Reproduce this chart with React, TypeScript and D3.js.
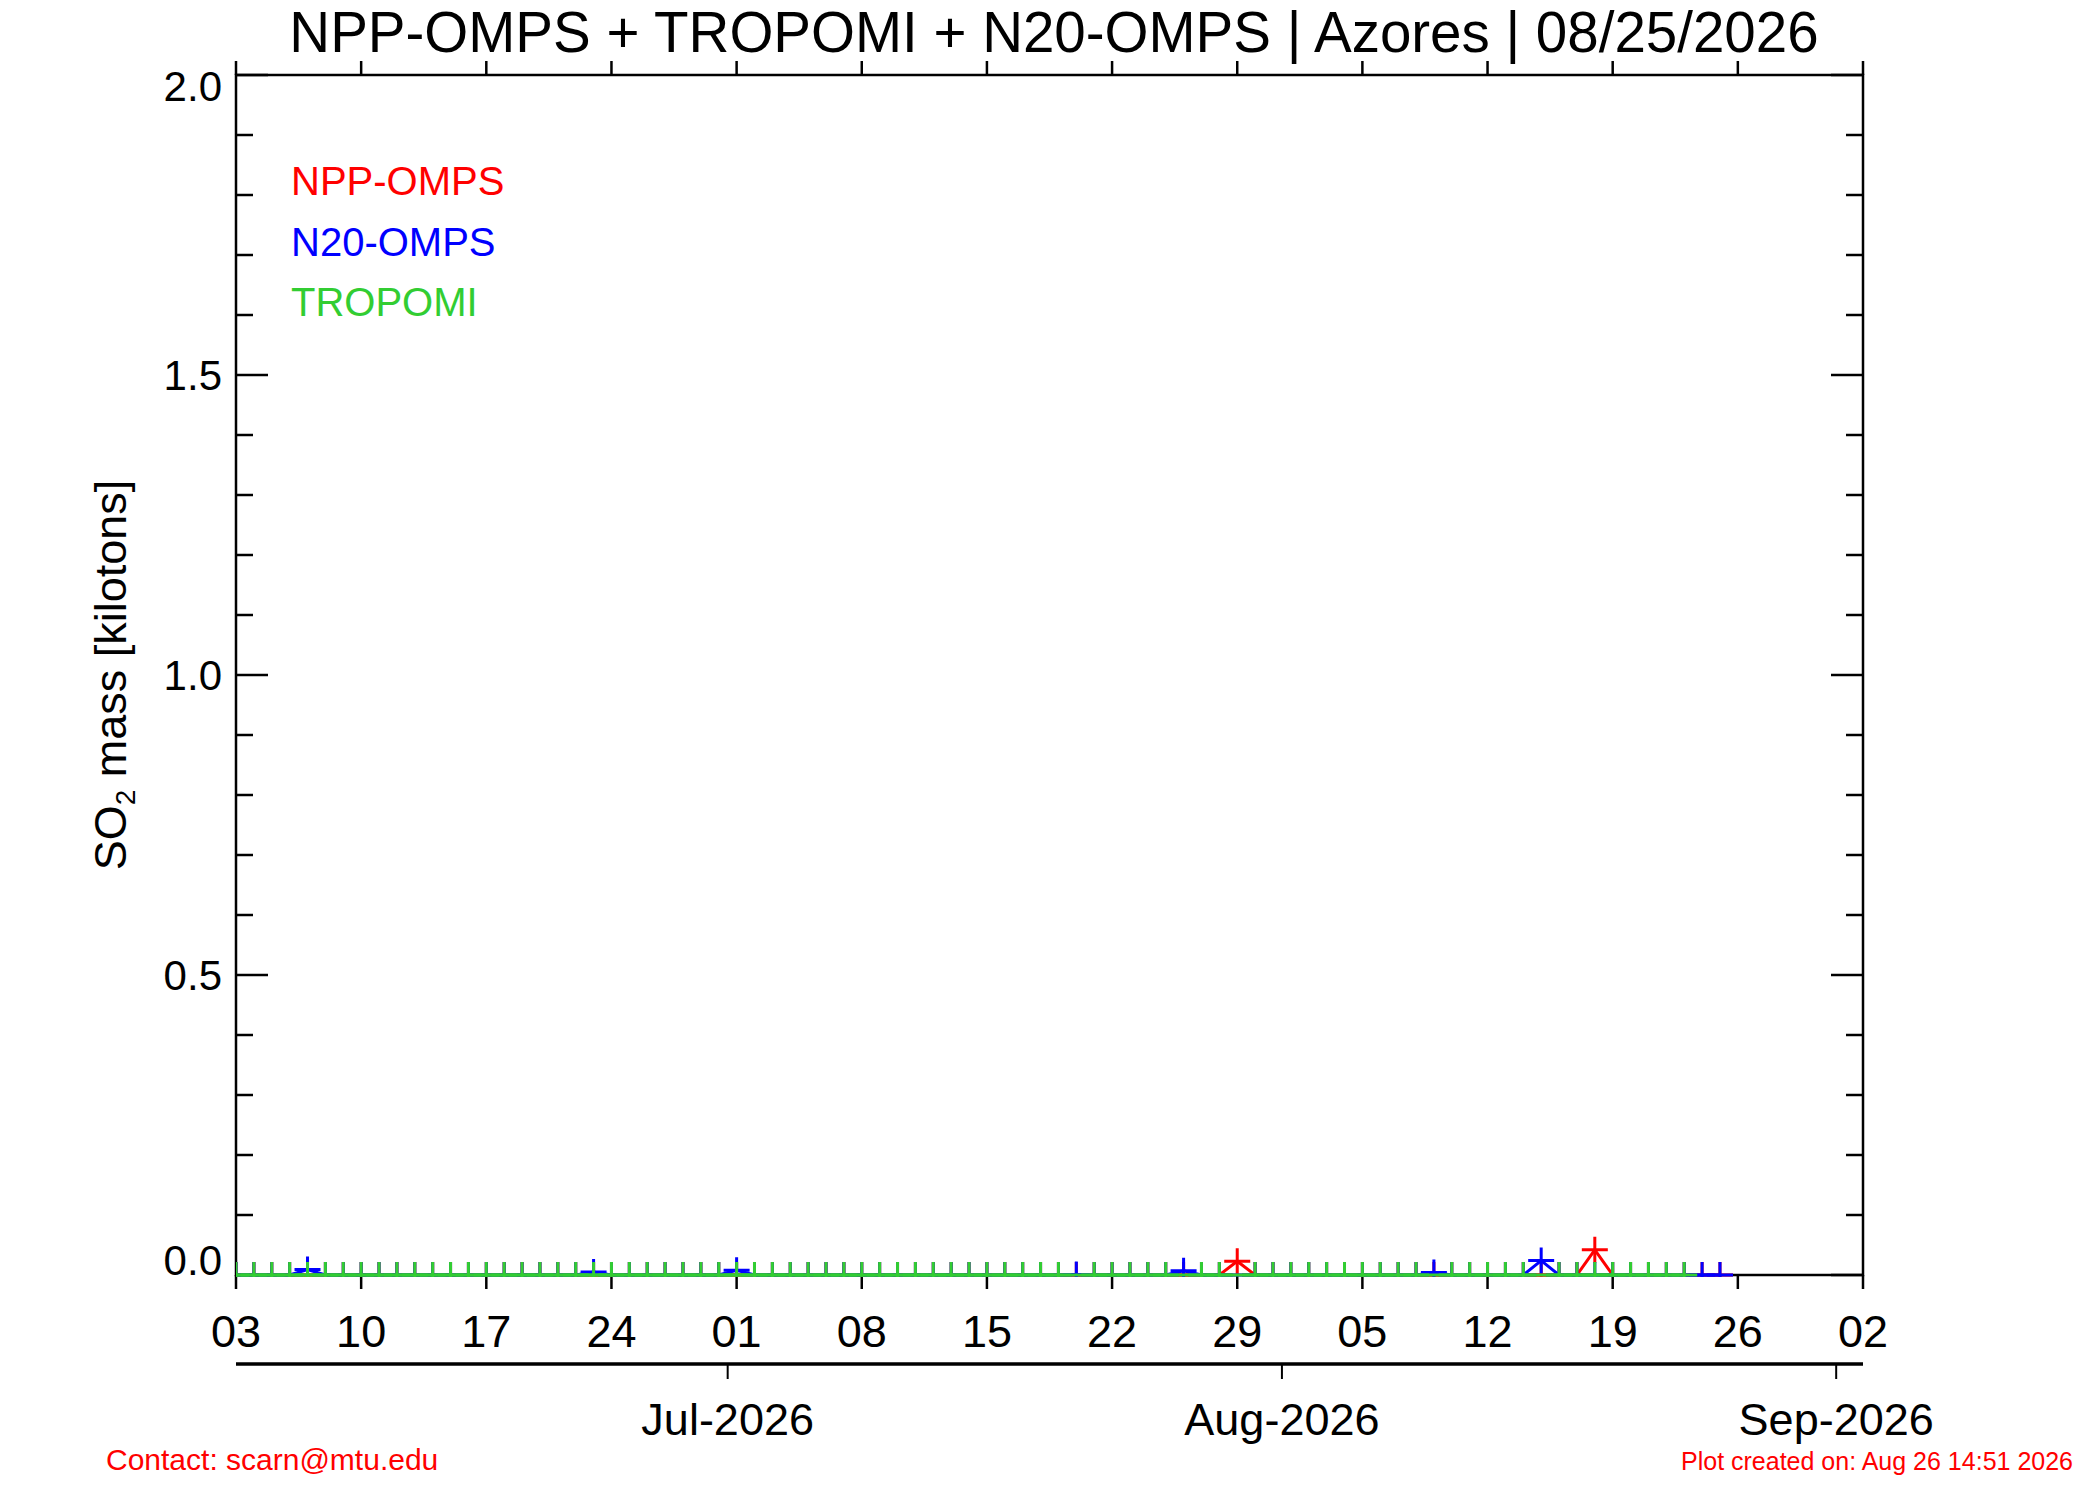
import React, { useEffect, useRef } from "react";
import * as d3 from "d3";

// first day of every series (Jun 3 2026), one value per day from there on
const seriesStart = "2026-06-03";

// SO2 mass [kilotons], null = no retrieval that day (weekly rows starting Wed)
const nppValues: Array<number | null> = [
  0, 0, 0, 0, 0, 0, 0,
  0, 0, 0, 0, 0, 0, 0,
  0, 0, 0, 0, 0, 0, 0,
  0, 0, 0, 0, 0, 0, 0,
  0, 0, 0, 0, 0, 0, 0,
  0, 0, 0, 0, 0, 0, 0,
  0, 0, 0, 0, 0, 0, 0,
  0, 0, 0, 0, 0, 0, 0,
  0.023, 0, 0, 0, 0, 0, 0,
  0, 0, 0, 0, 0, 0, 0,
  0, 0, 0, 0, 0, 0, 0.042,
  0, 0, 0, 0, 0, 0, 0,
];

const n20Values: Array<number | null> = [
  0, 0, 0, 0, 0.009, 0, 0,
  0, 0, 0, 0, 0, 0, 0,
  0, 0, 0, 0, 0, 0, 0.005,
  0, 0, 0, 0, 0, 0, 0,
  0.008, 0, 0, 0, 0, 0, 0,
  0, 0, 0, 0, 0, 0, 0,
  0, 0, 0, 0, 0, 0.001, 0,
  0, 0, 0, 0, 0.007, 0, 0,
  null, 0, 0, 0, 0, 0, 0,
  0, 0, 0, 0, 0.004, 0, 0,
  0, 0, 0, 0.024, 0, 0, 0,
  0, 0, 0, 0, 0, 0, 0,
];

const tropomiValues: Array<number | null> = [
  0, 0, 0, 0, 0, 0, 0,
  0, 0, 0, 0, 0, 0, 0,
  0, 0, 0, 0, 0, 0, 0,
  0, 0, 0, 0, 0, 0, 0,
  0, 0, 0, 0, 0, 0, 0,
  0, 0, 0, 0, 0, 0, 0,
  0, 0, 0, 0, 0, null, 0,
  0, 0, 0, 0, null, 0, 0,
  null, 0, 0, 0, 0, 0, 0,
  0, 0, 0, 0, null, 0, 0,
  0, 0, 0, null, 0, 0, 0,
  0, 0, 0, 0, 0, null, null,
];

const xDomain = ["2026-06-03", "2026-09-02"];
const dayTicks = [
  "2026-06-03", "2026-06-10", "2026-06-17", "2026-06-24", "2026-07-01",
  "2026-07-08", "2026-07-15", "2026-07-22", "2026-07-29", "2026-08-05",
  "2026-08-12", "2026-08-19", "2026-08-26", "2026-09-02",
];
const monthTicks = ["2026-07-01", "2026-08-01", "2026-09-01"];
const yMajorTicks = [0, 0.5, 1.0, 1.5, 2.0];

const legendItems = [
  { name: "NPP-OMPS", color: "#ff0000" },
  { name: "N20-OMPS", color: "#0000ff" },
  { name: "TROPOMI", color: "#32cd32" },
];

const FONT = "'Liberation Sans', Arial, Helvetica, sans-serif";

export default function App() {
  const svgRef = useRef<SVGSVGElement>(null);

  useEffect(() => {
    if (!svgRef.current) return;
    const svg = d3.select(svgRef.current);
    svg.selectAll("*").remove();

    const width = 2100;
    const height = 1500;
    const left = 236;
    const right = 1863;
    const top = 75;
    const bottom = 1275;

    const parse = d3.utcParse("%Y-%m-%d");
    const noon = (s: string) => d3.utcHour.offset(parse(s) as Date, 12);

    const x = d3
      .scaleUtc()
      .domain([noon(xDomain[0]), noon(xDomain[1])])
      .range([left, right]);
    const y = d3.scaleLinear().domain([0, 2]).range([bottom, top]);

    svg.append("rect").attr("width", width).attr("height", height).attr("fill", "#fff");

    // title
    svg
      .append("text")
      .attr("x", 1054)
      .attr("y", 52)
      .attr("text-anchor", "middle")
      .style("font-family", FONT)
      .style("font-size", "56.5px")
      .text("NPP-OMPS + TROPOMI + N20-OMPS | Azores | 08/25/2026");

    // frame
    svg
      .append("rect")
      .attr("x", left)
      .attr("y", top)
      .attr("width", right - left)
      .attr("height", bottom - top)
      .attr("fill", "none")
      .attr("stroke", "#000")
      .attr("stroke-width", 2.5);

    // y ticks (minor every 0.1, major every 0.5) on both sides
    const yTicks = y.ticks(20);
    yTicks.forEach((v) => {
      const major = Math.abs(v * 2 - Math.round(v * 2)) < 1e-6;
      const len = major ? 32 : 17;
      svg
        .append("line")
        .attr("x1", left)
        .attr("x2", left + len)
        .attr("y1", y(v))
        .attr("y2", y(v))
        .attr("stroke", "#000")
        .attr("stroke-width", 2.5);
      svg
        .append("line")
        .attr("x1", right)
        .attr("x2", right - len)
        .attr("y1", y(v))
        .attr("y2", y(v))
        .attr("stroke", "#000")
        .attr("stroke-width", 2.5);
    });

    yMajorTicks.forEach((v, i) => {
      let by = y(v) + 15;
      if (i === yMajorTicks.length - 1) by = y(v) + 26;
      if (i === 0) by = y(v);
      svg
        .append("text")
        .attr("x", 222)
        .attr("y", by)
        .attr("text-anchor", "end")
        .style("font-family", FONT)
        .style("font-size", "42px")
        .text(d3.format(".1f")(v));
    });

    // y axis title
    const yt = svg
      .append("text")
      .attr("transform", `translate(126,${(top + bottom) / 2}) rotate(-90)`)
      .attr("text-anchor", "middle")
      .style("font-family", FONT)
      .style("font-size", "45px");
    yt.append("tspan").text("SO");
    yt.append("tspan").attr("dy", 9).style("font-size", "28px").text("2");
    yt.append("tspan").attr("dy", -9).text(" mass [kilotons]");

    // weekly day ticks, top and bottom (outward)
    dayTicks.forEach((d) => {
      const px = x(noon(d));
      svg
        .append("line")
        .attr("x1", px)
        .attr("x2", px)
        .attr("y1", top)
        .attr("y2", top - 14)
        .attr("stroke", "#000")
        .attr("stroke-width", 2.5);
      svg
        .append("line")
        .attr("x1", px)
        .attr("x2", px)
        .attr("y1", bottom)
        .attr("y2", bottom + 14)
        .attr("stroke", "#000")
        .attr("stroke-width", 2.5);
      svg
        .append("text")
        .attr("x", px)
        .attr("y", 1347)
        .attr("text-anchor", "middle")
        .style("font-family", FONT)
        .style("font-size", "45px")
        .text(d3.utcFormat("%d")(noon(d)));
    });

    // month axis
    svg
      .append("line")
      .attr("x1", left)
      .attr("x2", right)
      .attr("y1", 1364)
      .attr("y2", 1364)
      .attr("stroke", "#000")
      .attr("stroke-width", 3.5);
    monthTicks.forEach((d) => {
      const date = parse(d) as Date;
      const px = x(date);
      svg
        .append("line")
        .attr("x1", px)
        .attr("x2", px)
        .attr("y1", 1364)
        .attr("y2", 1379)
        .attr("stroke", "#000")
        .attr("stroke-width", 2);
      svg
        .append("text")
        .attr("x", px)
        .attr("y", 1435)
        .attr("text-anchor", "middle")
        .style("font-family", FONT)
        .style("font-size", "45px")
        .text(d3.utcFormat("%b-%Y")(date));
    });

    // data (clipped to the plot window)
    svg
      .append("defs")
      .append("clipPath")
      .attr("id", "plot-clip")
      .append("rect")
      .attr("x", left)
      .attr("y", top)
      .attr("width", right - left)
      .attr("height", bottom - top + 2);

    const g = svg.append("g").attr("clip-path", "url(#plot-clip)");
    const start = parse(seriesStart) as Date;

    const drawSeries = (values: Array<number | null>, color: string) => {
      const pts = values
        .map((v, i) => ({ date: d3.utcHour.offset(d3.utcDay.offset(start, i), 12), v }))
        .filter((p) => p.v !== null) as Array<{ date: Date; v: number }>;

      const line = d3
        .line<{ date: Date; v: number }>()
        .x((p) => x(p.date))
        .y((p) => y(p.v));

      g.append("path")
        .datum(pts)
        .attr("fill", "none")
        .attr("stroke", color)
        .attr("stroke-width", 3)
        .attr("d", line);

      const arm = 13;
      g.selectAll(null)
        .data(pts)
        .enter()
        .append("path")
        .attr("fill", "none")
        .attr("stroke", color)
        .attr("stroke-width", 3)
        .attr("d", (p) => {
          const cx = x(p.date);
          const cy = y(p.v);
          return `M${cx - arm},${cy}H${cx + arm}M${cx},${cy - arm}V${cy + arm}`;
        });
    };

    drawSeries(nppValues, legendItems[0].color);
    drawSeries(n20Values, legendItems[1].color);
    drawSeries(tropomiValues, legendItems[2].color);

    // legend
    legendItems.forEach((item, i) => {
      svg
        .append("text")
        .attr("x", 291)
        .attr("y", 195 + i * 60.5)
        .attr("fill", item.color)
        .style("font-family", FONT)
        .style("font-size", "40px")
        .text(item.name);
    });

    // footer
    svg
      .append("text")
      .attr("x", 106)
      .attr("y", 1470)
      .attr("fill", "#ff0000")
      .style("font-family", FONT)
      .style("font-size", "30px")
      .text("Contact: scarn@mtu.edu");
    svg
      .append("text")
      .attr("x", 2073)
      .attr("y", 1470)
      .attr("text-anchor", "end")
      .attr("fill", "#ff0000")
      .style("font-family", FONT)
      .style("font-size", "25px")
      .text("Plot created on: Aug 26 14:51 2026");
  }, []);

  return (
    <svg
      ref={svgRef}
      width={2100}
      height={1500}
      style={{ position: "absolute", left: 0, top: 0, display: "block" }}
    />
  );
}
